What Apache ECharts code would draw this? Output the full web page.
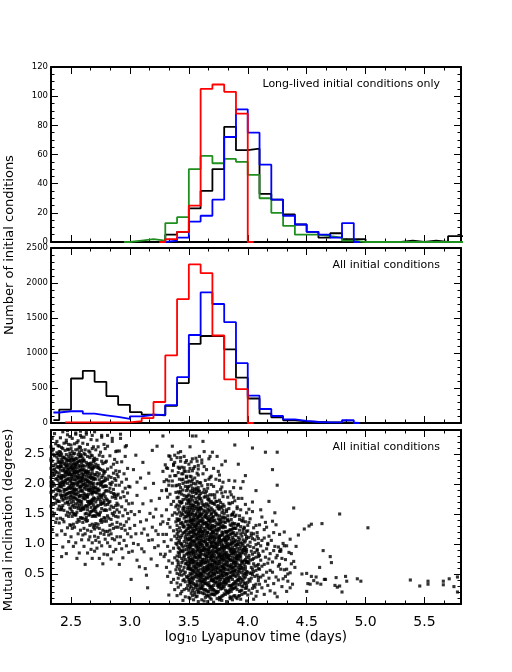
<!DOCTYPE html>
<html><head><meta charset="utf-8">
<script src="https://cdn.jsdelivr.net/npm/echarts@6/dist/echarts.min.js"></script>
<style>html,body{margin:0;padding:0;background:#fff}#c{width:512px;height:672px}</style>
</head><body><div id="c"></div>
<script>
// ---------- histogram bins (left edges, log10 Lyapunov time) ----------
const binEdges = [2.3,2.4,2.5,2.6,2.7,2.8,2.9,3.0,3.1,3.2,3.3,3.4,3.5,3.6,3.7,3.8,3.9,4.0,4.1,4.2,4.3,4.4,4.5,4.6,4.7,4.8,4.9,5.0,5.1,5.2,5.3,5.4,5.5,5.6,5.7,5.8,5.9];
const _ = null;
// long-lived initial conditions only (top panel)
const longBlack = [_,_,_,_,_,_,_,_,_, 0,5,7,23,35,50,79,63,64,33,29,19,12,7,3,6,2,2,0,0,0,1,0,1,0,4,4];
const longBlue  = [_,_,_,_,_,_,_,_,_, 0,1,3,14,18,29,72,91,75,53,29,18,12,7,5,3,13,0, _,_,_,_,_,_,_,_,_];
const longRed   = [_,_,_,_,_,_,_,_,_, 0,2,7,25,105,108,103,88,0, _,_,_,_,_,_,_,_,_,_,_,_,_,_,_,_,_,_];
const longGreen = [_,_,_,_,_,_, 0,1,2,1,13,17,50,59,54,57,55,46,30,20,11,5,5,4,3,1,0,0,0,0,0,0,0,0,0,0];
// all initial conditions (middle panel)
const allBlack = [40,192,636,746,588,385,260,155,120,110,245,570,1130,1243,1243,1052,648,350,134,80,39,24,14,10,10,5,0, _,_,_,_,_,_,_,_,_];
const allBlue  = [150,168,170,134,110,86,58,95,118,115,256,655,1257,1866,1700,1440,855,390,200,100,53,29,14,10,10,39,0, _,_,_,_,_,_,_,_,_];
const allRed   = [_, 8,8,8,8,8,10,25,70,300,965,1769,2265,2142,1250,623,483,0, _,_,_,_,_,_,_,_,_,_,_,_,_,_,_,_,_,_];

// ---------- scatter: pairs [log10 time x100, mutual inclination (deg) x100] ----------
const scatterLeftCluster = [
236,284,234,276,238,271,237,267,233,262,239,264,235,258,238,252,234,255,239,250,236,247,233,242,238,245,235,249,239,241,234,238,237,233,239,236,235,231,233,239,238,228,235,223,233,226,237,221,239,229,236,225,234,218,239,213,236,216,233,211,238,219,235,214,237,208,233,203,239,206,235,201,238,209,234,204,236,198,239,193,234,196,237,191,233,197,235,188,238,183,233,186,237,181,239,189,234,178,238,173,236,176,239,171,237,168,233,163,235,166,239,158,234,153,236,151,235,147,238,142,237,136,234,124,238,115,
243,287,247,282,241,277,246,273,249,279,244,268,240,263,248,266,242,261,246,269,247,258,241,253,245,256,249,251,243,259,240,254,248,257,242,250,240,248,245,243,248,246,242,241,246,249,244,244,249,242,241,247,247,240,243,245,246,241,243,238,248,233,241,236,246,231,249,239,244,234,240,237,247,230,242,235,245,232,248,239,241,231,246,236,246,228,241,223,244,226,249,221,242,229,247,224,240,227,245,220,248,225,243,222,246,221,241,229,249,227,244,223,240,218,245,213,248,216,242,211,246,219,243,214,249,217,241,210,247,215,244,212,240,212,248,219,245,217,242,214,247,208,242,203,245,206,240,201,248,209,243,204,246,207,241,200,249,205,244,202,247,201,242,209,245,203,244,198,249,193,241,196,246,191,243,199,248,194,240,197,245,190,242,195,247,192,244,191,249,197,241,188,246,183,249,186,243,181,240,189,247,184,244,187,242,180,248,185,245,182,241,182,248,178,243,173,246,176,240,171,245,179,249,174,242,177,247,170,244,175,245,168,240,163,248,166,242,161,247,169,243,164,249,160,242,158,247,153,244,156,249,151,241,157,246,148,241,143,248,146,243,141,244,137,249,132,240,135,247,127,242,122,245,116,248,104,243,95,246,84,
254,285,258,281,251,276,256,272,259,278,253,267,257,262,250,265,255,269,258,261,256,258,251,254,259,256,253,251,250,259,257,253,254,257,252,250,250,248,254,243,258,246,252,241,256,249,251,244,259,247,253,240,257,245,255,242,250,241,258,249,257,238,252,233,255,236,250,231,258,239,253,234,256,237,251,230,259,235,254,232,257,231,252,239,255,233,250,236,253,228,258,223,251,226,256,221,254,229,259,224,250,227,255,220,252,225,257,222,253,221,258,229,251,223,256,227,254,224,259,218,254,213,250,216,256,211,252,219,257,214,253,217,258,210,251,215,255,212,259,211,254,219,250,213,256,217,252,212,251,208,256,203,259,206,253,201,250,209,257,204,254,207,252,200,258,205,255,202,251,201,256,209,259,203,253,207,250,204,255,198,250,193,258,196,252,191,256,199,251,194,259,197,254,190,257,195,253,192,255,191,250,199,258,193,252,197,258,188,253,183,256,186,250,181,259,189,254,184,251,187,257,180,252,185,255,182,258,181,253,189,250,186,252,178,257,173,254,176,259,171,250,179,255,174,253,177,258,170,251,175,256,172,252,171,257,179,256,168,251,163,259,166,253,161,250,169,257,164,254,167,258,160,252,165,255,162,250,158,255,153,258,156,252,151,256,159,251,154,259,157,254,150,254,148,259,143,251,146,256,141,253,149,258,144,257,138,252,133,255,136,250,131,253,128,258,123,251,126,256,117,250,112,259,107,254,102,252,96,257,85,255,76,
263,283,267,274,261,278,264,266,269,262,260,268,262,257,266,253,268,259,261,251,265,255,267,248,260,243,264,246,269,241,262,249,266,244,261,240,268,247,261,238,266,233,263,236,268,231,260,239,265,234,269,237,262,230,267,235,264,232,260,231,265,228,260,223,268,226,262,221,266,229,261,224,269,227,264,220,267,225,263,222,265,221,260,229,268,223,268,218,263,213,260,216,266,211,262,219,267,214,264,217,269,210,261,215,265,212,268,211,263,219,260,212,266,217,262,208,267,203,264,206,269,201,260,209,265,204,263,207,268,200,261,205,266,202,262,201,267,209,264,203,269,207,266,198,261,193,269,196,263,191,260,199,267,194,264,197,268,190,262,195,265,192,266,191,261,199,269,193,263,197,260,188,265,183,268,186,262,181,266,189,261,184,269,187,264,180,267,185,263,182,260,181,265,189,268,183,264,178,269,173,261,176,266,171,263,179,268,174,260,177,265,170,262,175,267,172,264,171,269,177,267,168,262,163,265,166,260,161,268,169,263,164,266,167,261,160,269,165,264,162,267,161,261,158,266,153,269,156,263,151,260,159,267,154,264,157,262,150,268,155,265,148,260,143,268,146,262,141,266,149,263,144,269,147,263,138,268,133,260,136,266,131,264,139,269,128,264,123,261,126,267,121,262,117,266,112,260,115,265,107,268,102,261,96,267,91,264,85,268,76,262,66,
276,281,272,273,278,266,273,262,271,257,275,253,279,259,274,248,270,243,277,246,272,241,276,238,271,233,279,236,273,231,270,239,277,234,272,228,277,223,274,226,279,221,270,229,275,224,273,227,278,220,278,218,273,213,270,216,276,211,272,219,277,214,274,217,279,210,271,215,271,208,276,203,279,206,273,201,270,209,277,204,274,207,272,200,278,205,275,202,275,198,270,193,278,196,272,191,276,199,271,194,279,197,274,190,277,195,273,192,279,188,274,183,271,186,276,181,273,189,278,184,270,187,275,180,272,185,277,182,273,178,278,173,270,176,275,171,279,179,272,174,276,177,271,170,274,175,277,168,272,163,275,166,270,161,278,169,273,164,276,167,271,160,279,165,270,158,275,153,278,156,272,151,276,159,271,154,279,157,274,150,274,148,279,143,271,146,276,141,273,149,278,144,270,147,278,138,273,133,276,136,270,131,275,139,271,134,272,128,277,123,274,126,279,121,270,125,275,118,270,113,278,116,273,111,279,108,274,103,271,106,276,97,272,93,270,88,278,83,274,76,277,67,
285,276,281,263,288,254,283,247,287,241,280,238,286,233,289,236,284,228,288,222,281,225,286,218,282,213,289,216,284,211,281,208,285,203,288,206,283,201,287,209,288,198,283,193,280,196,286,191,284,199,282,188,287,183,284,186,289,181,280,189,286,184,285,178,281,173,288,176,283,171,287,179,280,175,289,168,284,163,281,166,286,161,282,169,288,164,283,158,287,153,280,156,285,151,289,157,286,148,282,143,288,146,284,141,281,147,280,138,285,133,289,136,283,131,288,128,283,123,286,126,281,121,284,117,289,112,282,115,287,107,281,102,285,109,283,96,288,91,286,87,281,82,284,75,
292,283,297,264,291,255,296,246,293,237,298,226,291,221,295,217,290,212,297,208,293,203,291,198,296,193,299,196,294,187,290,183,298,185,292,177,297,172,295,179,299,167,293,162,290,165,296,157,291,153,298,151,294,147,299,142,290,145,297,137,292,133,295,131,290,128,296,123,293,126,298,117,292,112,295,106,291,101,297,97,293,92,299,86,294,77,291,66
];
const scatterBetween = [
301,41,315,27,292,276,319,256,323,263,305,248,311,236,309,210,303,224,300,195,306,181,313,193,318,172,322,158,327,147,302,168,308,154,314,140,319,128,324,116,329,104,304,131,310,118,316,106,321,94,326,83,301,112,307,99,312,87,318,75,323,64,328,137,302,88,306,73,313,59,317,151,325,176,320,201,311,167,304,149,300,126,315,115,309,137,324,97,329,79,303,101,308,62,314,48,322,122,327,189,316,218,306,203,312,125,319,107,326,133,301,154,305,117,310,92,320,145,328,116,
281,281,270,287,258,288,247,289,263,286,276,278,285,271,296,262,289,255,254,283,268,281,242,79,328,280,336,263,353,280
];
const scatterMainCluster = [
334,246,337,233,331,227,338,214,333,205,336,197,331,191,339,186,334,183,332,178,337,171,335,166,339,162,331,157,338,152,336,148,333,141,339,137,332,134,334,128,337,122,331,116,338,113,335,107,339,101,332,96,337,93,334,88,330,83,338,77,333,72,336,68,331,61,339,57,334,53,332,46,337,41,335,36,338,24,333,15,
343,244,347,236,341,228,346,222,344,217,348,211,342,208,349,203,345,201,340,198,343,194,347,196,345,190,349,192,341,187,344,183,348,189,346,181,342,185,349,180,343,188,340,177,345,174,348,179,342,171,347,175,344,170,349,173,341,178,343,168,346,162,340,165,348,167,345,160,342,163,349,161,344,169,341,158,347,154,344,151,349,157,342,153,346,159,340,150,348,152,345,156,343,147,340,142,348,145,345,149,341,140,346,143,349,148,342,141,347,146,344,136,349,132,341,139,346,130,343,134,348,138,340,131,345,133,347,137,342,127,347,121,340,124,345,129,349,126,343,122,346,128,341,120,348,123,345,118,341,113,348,116,343,111,346,119,340,117,349,110,344,114,347,112,340,109,346,104,343,101,349,107,341,103,347,108,344,100,342,106,348,102,347,97,342,92,345,95,340,99,348,91,344,98,341,94,349,96,346,90,343,88,348,83,341,86,346,81,344,89,349,85,340,80,345,87,342,84,346,78,340,73,344,76,349,71,342,79,347,74,341,70,345,72,348,68,343,63,341,66,346,61,349,65,344,69,340,62,347,67,342,58,347,53,345,56,340,51,349,59,343,54,346,50,344,48,341,43,348,46,346,41,342,49,349,44,347,37,343,32,340,35,345,39,349,31,341,28,346,24,344,21,348,26,343,17,347,12,340,14,345,6,
356,243,352,237,358,231,354,226,350,221,357,218,351,213,355,210,353,207,359,202,350,205,356,200,352,198,358,194,355,191,350,196,357,190,353,193,351,188,356,184,359,181,353,186,358,189,350,182,355,187,352,180,357,185,354,179,350,174,357,171,352,177,359,175,355,170,351,172,358,178,353,173,356,176,350,170,356,169,351,164,358,166,353,161,350,168,355,163,359,160,352,167,357,162,354,165,351,160,358,168,353,164,357,159,350,153,354,156,359,151,352,158,356,150,351,155,358,157,353,152,355,159,350,151,357,154,352,150,359,156,353,149,358,143,351,146,355,141,350,148,357,145,352,140,359,147,354,144,356,149,351,142,358,146,353,140,355,147,357,141,359,138,352,133,356,136,350,131,354,139,358,134,351,137,355,130,353,135,357,132,350,138,356,131,352,139,358,136,354,133,351,128,357,124,353,121,359,127,355,122,350,126,358,120,352,129,356,125,354,123,351,121,357,128,353,126,359,122,355,129,358,118,354,113,350,116,356,111,352,119,359,114,355,117,351,110,357,115,353,112,350,119,356,116,352,113,358,111,354,118,352,108,355,103,359,106,351,101,357,109,354,104,350,107,356,100,353,105,358,102,351,108,355,106,359,101,352,103,357,107,355,98,351,93,358,96,353,91,350,99,357,94,352,97,359,92,354,90,356,95,350,93,353,99,358,91,351,96,357,98,350,88,356,84,352,81,359,87,354,83,357,89,351,85,355,80,353,86,358,82,350,84,356,88,352,87,359,80,354,86,357,78,353,73,350,76,355,71,359,79,352,74,356,77,351,70,358,75,354,72,350,79,357,71,353,76,355,78,351,74,354,68,358,63,351,66,356,61,353,69,350,64,357,67,352,60,359,65,355,62,351,69,354,63,358,67,350,61,356,66,351,58,355,53,358,56,353,51,350,59,357,54,352,57,356,50,354,55,359,52,351,51,355,58,353,56,357,59,358,48,352,43,355,46,350,41,357,49,353,44,359,47,351,40,356,45,354,42,350,47,358,44,352,49,353,38,357,33,351,36,356,31,359,39,354,34,350,37,358,30,352,35,355,32,357,38,351,33,356,28,350,23,354,26,358,21,352,29,357,24,351,27,355,20,359,25,353,22,352,18,357,13,355,16,350,11,358,19,353,14,356,12,354,7,358,4,351,9,
363,254,367,242,361,235,365,224,362,217,368,211,364,206,360,202,367,208,361,197,366,193,369,199,363,191,365,188,360,184,368,182,362,186,366,180,363,178,367,173,360,176,369,171,364,179,361,172,366,175,368,169,362,164,365,167,360,161,367,163,363,166,369,160,361,168,364,162,366,165,360,159,366,153,363,156,369,151,361,158,365,150,368,155,362,152,367,157,364,154,360,150,366,158,364,148,361,143,367,146,362,140,369,149,365,144,360,147,368,141,363,145,366,142,361,149,367,140,364,146,369,143,367,139,362,133,365,136,360,131,368,138,363,134,369,130,361,137,366,132,364,135,360,139,367,131,362,137,365,133,368,135,361,128,369,124,363,121,366,127,360,122,365,129,368,125,362,120,367,126,364,123,361,121,369,128,363,126,366,120,360,125,365,118,360,113,368,116,362,111,366,119,361,114,369,117,364,110,367,112,363,115,360,119,368,111,362,117,365,114,369,112,368,108,364,103,361,106,366,101,360,109,363,104,367,107,365,100,362,105,369,102,361,100,366,108,364,106,360,103,368,104,362,98,367,93,360,96,365,91,369,99,363,94,366,97,361,90,368,95,364,92,360,99,367,91,362,94,369,96,365,98,363,90,366,88,361,83,364,86,369,81,362,89,367,84,360,87,365,80,368,85,363,82,361,89,366,84,369,87,364,81,360,83,367,88,360,78,365,73,368,76,362,71,366,79,361,74,369,77,364,70,367,72,363,75,360,71,368,79,365,77,362,74,366,70,369,73,363,68,369,63,361,66,366,61,364,69,360,64,367,67,362,60,368,65,365,62,361,69,366,64,363,61,369,67,360,68,367,63,367,58,362,53,365,56,360,51,368,59,363,54,366,57,361,50,369,55,364,52,360,58,367,51,362,56,365,59,368,53,363,57,361,48,366,43,369,46,363,41,360,49,365,44,368,47,362,40,367,45,364,42,361,44,366,49,369,41,363,47,360,43,364,38,360,33,367,36,362,31,369,39,365,34,361,37,368,30,363,35,366,32,360,38,367,31,364,34,362,37,368,28,363,23,361,26,366,21,369,29,364,24,360,27,367,20,362,25,365,22,368,24,361,29,362,18,366,13,369,16,364,11,360,19,367,14,363,17,368,10,365,15,361,7,366,4,369,8,363,5,
374,246,378,232,371,226,376,215,373,208,379,203,371,196,377,191,374,187,370,182,378,185,372,177,376,173,379,179,373,171,370,168,375,164,378,161,372,166,377,169,374,162,376,158,371,153,379,156,373,151,370,157,375,159,378,152,372,155,374,148,379,143,371,146,377,141,373,149,370,144,376,147,372,140,378,145,375,142,370,138,376,133,373,136,379,131,371,139,375,134,378,137,372,130,377,135,374,132,370,131,376,139,378,128,372,123,375,126,370,121,377,129,373,124,379,127,371,120,376,125,374,122,378,120,372,129,375,123,370,127,371,118,376,113,379,116,373,111,370,119,377,114,374,117,372,110,378,115,375,112,371,113,379,119,376,110,373,116,370,112,375,108,370,103,378,106,372,101,376,109,371,104,379,107,374,100,377,105,373,102,370,109,378,101,375,104,372,107,376,103,379,98,374,93,371,96,376,91,373,99,378,94,370,97,375,90,372,95,377,92,379,91,374,97,371,93,376,99,373,94,378,96,372,88,377,83,374,86,379,81,370,89,375,84,373,87,378,80,371,85,376,82,372,81,379,86,374,89,370,83,377,87,375,80,376,78,371,73,379,76,373,71,370,79,377,74,374,77,372,70,378,75,375,72,371,78,376,71,379,74,373,76,370,72,377,79,373,68,378,63,370,66,375,61,372,69,379,64,376,67,371,60,374,65,377,62,373,61,378,69,370,63,375,67,372,64,379,60,370,58,374,53,377,56,371,51,379,59,373,54,376,57,372,50,378,55,375,52,370,51,374,59,377,53,371,56,379,52,373,58,377,48,372,43,375,46,370,41,378,49,373,44,379,47,371,40,376,45,374,42,377,41,372,49,375,43,370,47,378,44,371,38,376,33,379,36,374,31,370,39,377,34,373,37,378,30,372,35,375,32,371,31,376,38,379,33,374,36,375,28,370,23,378,26,373,21,376,29,371,24,379,27,374,20,377,25,372,22,375,21,370,27,373,18,378,13,371,16,376,11,374,19,379,14,370,17,377,10,372,15,376,7,371,3,378,6,374,9,
384,206,388,194,381,187,386,182,383,178,389,172,385,167,380,163,387,169,382,157,388,153,384,159,380,151,386,148,381,143,389,146,383,141,387,149,380,145,384,138,388,133,381,136,386,131,383,139,389,134,380,137,385,132,387,135,381,128,386,123,389,126,383,121,380,129,385,124,388,127,382,120,387,125,384,122,381,121,387,118,382,113,385,116,380,111,388,119,383,114,386,117,381,110,389,115,384,112,387,111,382,119,383,108,388,103,381,106,386,101,384,109,389,104,380,107,385,100,382,105,387,102,383,101,388,108,381,103,386,106,389,98,384,93,380,96,386,91,382,99,387,94,383,97,388,90,381,95,385,92,389,91,384,97,380,93,386,99,382,94,385,88,380,83,388,86,382,81,386,89,381,84,389,87,384,80,387,85,383,82,385,81,380,89,388,83,382,86,386,84,382,78,387,73,384,76,389,71,380,79,385,74,383,77,388,70,381,75,386,72,382,71,387,78,384,73,389,76,380,72,388,68,383,63,386,66,380,61,389,69,384,64,381,67,387,60,382,65,385,62,388,61,383,69,386,63,380,66,389,64,381,58,386,53,389,56,383,51,380,59,387,54,384,57,382,50,388,55,385,52,381,51,386,59,389,53,383,57,380,54,387,48,382,43,385,46,380,41,388,49,383,44,389,47,381,40,386,45,384,42,387,41,382,49,385,44,380,47,384,38,389,33,381,36,386,31,383,39,388,34,380,37,385,30,382,35,387,32,384,31,389,37,381,33,386,28,381,23,388,26,383,21,380,29,385,24,389,27,382,20,387,25,384,22,386,21,383,18,388,13,381,16,386,11,384,19,389,14,380,17,385,12,387,7,382,4,385,9,
396,204,392,176,398,166,391,162,394,157,399,152,390,148,396,143,393,141,398,137,392,133,395,139,391,131,397,128,393,123,390,126,399,121,394,129,396,124,391,118,395,113,398,116,392,111,396,119,390,114,394,117,399,112,393,108,397,103,390,106,395,101,399,109,392,104,396,107,391,100,398,105,394,102,396,98,391,93,394,96,399,91,392,99,397,94,390,97,395,90,398,95,393,92,391,99,396,91,392,88,398,83,395,86,390,81,397,89,393,84,399,87,391,80,396,85,394,82,392,81,398,89,390,86,399,78,394,73,391,76,396,71,393,79,398,74,390,77,395,70,392,75,397,72,394,78,399,71,391,73,395,68,390,63,397,66,392,61,399,69,394,64,391,67,396,60,393,65,398,62,395,61,390,69,398,58,393,53,396,56,391,51,394,59,399,54,390,57,397,50,392,55,395,52,398,51,393,58,392,48,397,43,390,46,395,41,399,49,393,44,396,47,391,40,398,45,394,42,392,41,396,38,391,33,394,36,399,31,392,39,397,34,390,37,395,30,398,35,393,32,390,28,395,23,398,26,393,21,396,29,391,24,399,27,394,22,397,18,392,13,395,16,390,11,398,19,393,14,394,8,399,5,391,9,
404,154,401,136,407,131,405,127,400,122,403,118,408,113,401,111,406,107,402,103,409,101,404,109,400,98,405,94,408,91,402,96,407,99,403,88,409,84,401,81,406,86,404,83,408,89,407,78,402,73,405,76,400,71,409,79,404,74,401,77,401,68,406,63,409,66,403,61,400,69,408,64,405,67,404,58,400,53,407,56,402,51,409,59,405,54,403,52,408,48,403,43,406,46,401,41,404,49,409,44,402,38,407,33,400,36,405,31,409,39,406,28,401,23,404,26,408,21,403,18,407,13,400,15,405,8,
414,124,418,113,412,106,417,101,411,97,416,92,413,88,419,84,410,81,415,78,411,73,418,75,417,68,412,63,414,66,410,58,416,53,419,56,413,48,418,43,411,45,415,38,410,33,417,31,412,27,419,22,414,16,
421,70,424,45,427,88,431,57,434,38,423,96,426,63,429,29,432,74,436,52,422,34,425,81,428,58,433,21,437,67,421,53,424,77,430,42,435,86,438,33,423,18,427,66,431,97,434,50,439,71,422,89,426,40,429,76,433,58,436,27,425,12,428,91,432,46,437,84,440,61
];
const scatterSparse = [
446,50,450,51,454,46,456,39,451,34,453,33,458,45,459,35,462,33,466,41,471,69,470,79,461,61,464,89,465,41,476,28,478,30,474,31,480,20,450,21,475,44,483,46,484,38,493,42,496,38,
538,40,553,38,566,38,571,42,546,30,575,29,578,45,578,20,553,33,566,32,
478,150,502,127,448,125,454,133,463,134,443,115,439,160,452,130,425,198,421,224,415,253,404,260,389,265,392,233,370,253,362,271,425,253,
372,182,378,195,384,168,389,205,395,176,401,158,407,189,412,145,418,171,423,152,375,221,381,238,387,150,393,147,398,214,404,170,410,132,416,128,421,138,427,116,366,199,369,213,374,171,379,166,385,187,391,159,396,138,402,142,408,119,414,110,420,106,426,95,431,120,436,108,441,96,363,229,368,246,376,206,382,154,388,178,394,193,400,131,405,117,411,157,417,99,424,132,430,101,357,204,359,188,364,185,367,175,371,168,377,162,383,147,386,141,392,132,397,126,403,114,409,109,415,136,422,119,428,88,433,97,361,240,358,215,353,222,352,204,348,213,344,228,341,219,338,236,346,246,351,262,356,280,343,254,
336,205,339,214,342,199,345,208,347,221,349,195,352,212,354,201,356,193,337,231,340,244,343,238,346,227,350,233,353,242,355,229,358,225,336,222,338,248,341,252,344,207,348,239,351,226,357,238,359,246,339,197,342,226,345,217,347,203,353,189,334,213,333,198,332,226,335,241,331,207,330,232,333,247,331,189,329,204,328,221
];

// ---------- axis ticks ----------
const X_MIN = 2.33, X_MAX = 5.81;
const xMajorTicks = [2.5,3.0,3.5,4.0,4.5,5.0,5.5];
const xMinorTicks = [2.3334,2.6667,2.8333,3.1667,3.3333,3.6667,3.8333,4.1667,4.3333,4.6667,4.8333,5.1667,5.3333,5.6667];
const topYTicks = [0,20,40,60,80,100,120];
const midYTicks = [0,500,1000,1500,2000,2500];
const botYTicks = [0.5,1.0,1.5,2.0,2.5];

function minorsOf(lo, hi, step, majors) {
  const out = [];
  for (let v = lo + step; v < hi - 1e-9; v += step) {
    const r = Math.round(v * 1000) / 1000;
    if (!majors.some(m => Math.abs(m - r) < 1e-6)) out.push(r);
  }
  return out;
}
const topYMinor = minorsOf(0, 120, 5, topYTicks);
const midYMinor = minorsOf(0, 2500, 100, midYTicks);
const botYMinor = minorsOf(0, 2.9, 0.1, botYTicks.concat([0]));

const FONT = '"DejaVu Sans", sans-serif';
const BLACK = '#000';

function axisSet(kind, g, min, max, majors, minors, labelCfg) {
  const posA = kind === 'x' ? 'bottom' : 'left';
  const posB = kind === 'x' ? 'top' : 'right';
  const base = {type:'value', gridIndex:g, min:min, max:max, splitLine:{show:false}, minorTick:{show:false}, axisPointer:{show:false}};
  const line = {show:true, onZero:false, lineStyle:{color:BLACK, width:2}};
  const noLine = {show:false, onZero:false};
  const maj = {show:true, inside:true, length:7, customValues:majors, lineStyle:{color:BLACK, width:1}};
  const min_ = {show:true, inside:true, length:3.5, customValues:minors, lineStyle:{color:BLACK, width:1}};
  const noLab = {show:false};
  return [
    Object.assign({}, base, {position:posA, axisLine:line, axisTick:maj, axisLabel: labelCfg || noLab}),
    Object.assign({}, base, {position:posA, axisLine:noLine, axisTick:min_, axisLabel:noLab}),
    Object.assign({}, base, {position:posB, axisLine:line, axisTick:maj, axisLabel:noLab}),
    Object.assign({}, base, {position:posB, axisLine:noLine, axisTick:min_, axisLabel:noLab})
  ];
}

const xLabelCfg = {show:true, customValues:xMajorTicks, formatter:v => v.toFixed(1), margin:11, fontSize:14, color:BLACK, fontFamily:FONT};
const topYLabel = {show:true, customValues:topYTicks, formatter:v => String(v), margin:3, fontSize:8.5, color:BLACK, fontFamily:FONT};
const midYLabel = {show:true, customValues:midYTicks, formatter:v => String(v), margin:3, fontSize:8.5, color:BLACK, fontFamily:FONT};
const botYLabel = {show:true, customValues:botYTicks, formatter:v => v.toFixed(1), margin:6, fontSize:13, color:BLACK, fontFamily:FONT};

const xAxes = [].concat(
  axisSet('x', 0, X_MIN, X_MAX, xMajorTicks, xMinorTicks, null),
  axisSet('x', 1, X_MIN, X_MAX, xMajorTicks, xMinorTicks, null),
  axisSet('x', 2, X_MIN, X_MAX, xMajorTicks, xMinorTicks, xLabelCfg)
);
const yAxes = [].concat(
  axisSet('y', 0, 0, 120, topYTicks, topYMinor, topYLabel),
  axisSet('y', 1, 0, 2500, midYTicks, midYMinor, midYLabel),
  axisSet('y', 2, 0, 2.9, botYTicks.concat([0]), botYMinor, botYLabel)
);

// histogram as IDL-style step line (starts/ends at bin centres)
function stepData(values) {
  const out = [];
  let first = -1, last = -1;
  for (let i = 0; i < values.length; i++) {
    if (values[i] === null) continue;
    if (first < 0) { first = i; out.push([binEdges[i] + 0.05, values[i]]); }
    else out.push([binEdges[i], values[i]]);
    last = i;
  }
  if (last >= 0) out.push([binEdges[last] + 0.05, values[last]]);
  return out;
}
function hist(values, color, g) {
  return {type:'line', xAxisIndex:g*4, yAxisIndex:g*4, data:stepData(values), step:'end', symbol:'none',
          lineStyle:{color:color, width:1.8}, itemStyle:{color:color}, silent:true, animation:false};
}

const scatterData = [];
[scatterLeftCluster, scatterBetween, scatterMainCluster, scatterSparse].forEach(arr => {
  for (let i = 0; i + 1 < arr.length; i += 2) scatterData.push([arr[i] / 100, arr[i + 1] / 100]);
});

const chart = echarts.init(document.getElementById('c'), null, {renderer:'canvas'});
chart.setOption({
  animation:false,
  backgroundColor:'#fff',
  grid:[
    {left:51, right:51, top:67, height:175},
    {left:51, right:51, top:248, height:175},
    {left:51, right:51, top:430, height:174}
  ],
  xAxis:xAxes,
  yAxis:yAxes,
  series:[
    hist(longBlack, '#000000', 0),
    hist(longGreen, '#1f8f1f', 0),
    hist(longBlue, '#0000ff', 0),
    hist(longRed, '#ff0000', 0),
    hist(allBlack, '#000000', 1),
    hist(allBlue, '#0000ff', 1),
    hist(allRed, '#ff0000', 1),
    {type:'scatter', xAxisIndex:8, yAxisIndex:8, data:scatterData, symbol:'rect', symbolSize:3.1,
     itemStyle:{color:'#000'}, silent:true, animation:false, progressive:0, large:false}
  ],
  graphic:[
    {type:'text', x:440, y:84, style:{text:'Long-lived initial conditions only', fill:BLACK, font:'11px ' + FONT, align:'right', verticalAlign:'middle', textAlign:'right', textVerticalAlign:'middle'}},
    {type:'text', x:440, y:265, style:{text:'All initial conditions', fill:BLACK, font:'11px ' + FONT, align:'right', verticalAlign:'middle', textAlign:'right', textVerticalAlign:'middle'}},
    {type:'text', x:440, y:447, style:{text:'All initial conditions', fill:BLACK, font:'11px ' + FONT, align:'right', verticalAlign:'middle', textAlign:'right', textVerticalAlign:'middle'}},
    {type:'text', x:10, y:245, rotation:Math.PI/2, style:{text:'Number of initial conditions', fill:BLACK, font:'13px ' + FONT, align:'center', verticalAlign:'middle', textAlign:'center', textVerticalAlign:'middle'}},
    {type:'text', x:9, y:520, rotation:Math.PI/2, style:{text:'Mutual inclination (degrees)', fill:BLACK, font:'13px ' + FONT, align:'center', verticalAlign:'middle', textAlign:'center', textVerticalAlign:'middle'}},
    {type:'text', x:256, y:634, style:{text:'{a|log}{b|10}{a| Lyapunov time (days)}', fill:BLACK, align:'center', verticalAlign:'middle', textAlign:'center', textVerticalAlign:'middle',
      rich:{a:{fontSize:13.5, fontFamily:FONT, fill:BLACK, color:BLACK, lineHeight:20, verticalAlign:'bottom'},
            b:{fontSize:9, fontFamily:FONT, fill:BLACK, color:BLACK, lineHeight:9, verticalAlign:'bottom'}}}}
  ]
});
</script>
</body></html>
